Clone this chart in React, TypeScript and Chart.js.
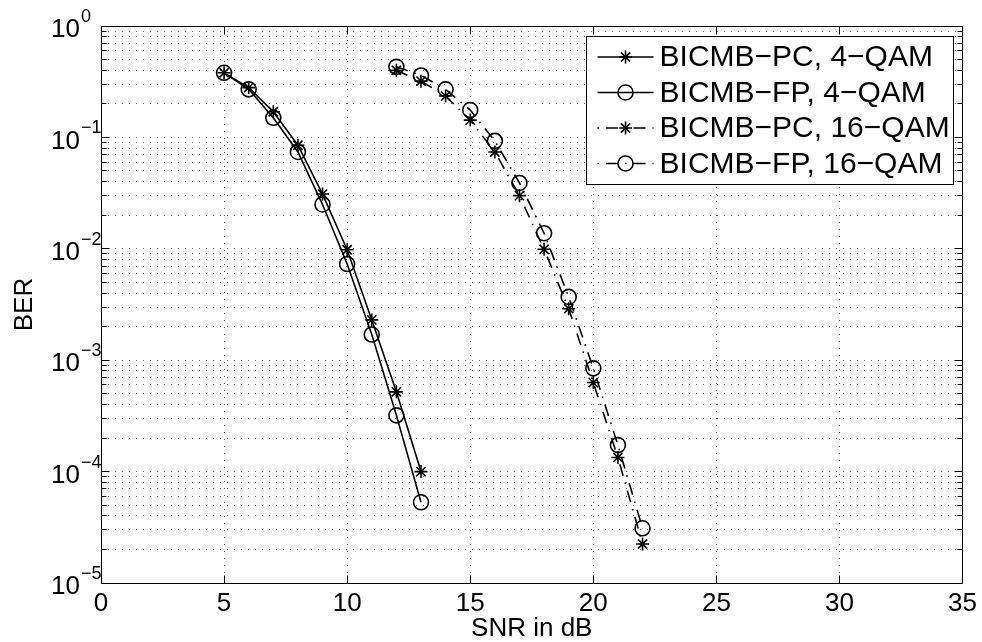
import React, { useEffect, useRef } from 'react';
import { Chart, registerables } from 'chart.js';

Chart.register(...registerables);

const W = 982;
const H = 642;
const FONT = '"Liberation Sans", Arial, Helvetica, sans-serif';

// ---- data ----
const snr4QAM = [5, 6, 7, 8, 9, 10, 11, 12, 13];
const berPC4QAM = [0.38, 0.28, 0.17, 0.085, 0.031, 0.0098, 0.0023, 0.00052, 0.0001];
const berFP4QAM = [0.38, 0.27, 0.15, 0.074, 0.025, 0.0073, 0.0017, 0.00032, 0.000053];
const snr16QAM = [12, 13, 14, 15, 16, 17, 18, 19, 20, 21, 22];
const berPC16QAM = [0.4, 0.32, 0.235, 0.143, 0.074, 0.03, 0.0099, 0.0029, 0.00063, 0.000134, 0.0000224];
const berFP16QAM = [0.43, 0.36, 0.27, 0.176, 0.093, 0.039, 0.0138, 0.0037, 0.000845, 0.000173, 0.000031];
const seriesLabels = ['BICMB\u2212PC, 4\u2212QAM', 'BICMB\u2212FP, 4\u2212QAM', 'BICMB\u2212PC, 16\u2212QAM', 'BICMB\u2212FP, 16\u2212QAM'];
const xTickValues = [0, 5, 10, 15, 20, 25, 30, 35];
const yDecadeExponents = [0, -1, -2, -3, -4, -5];
const yMinorMultipliers = [2, 3, 4, 5, 6, 7, 8, 9];
const xTitle = 'SNR in dB';
const yTitle = 'BER';

const DASH_DOT = [12, 7, 1.5, 7];
const LINE_W = 1.6;
const GRID_COLOR = 'rgba(0,0,0,0.6)';

const toPoints = (xs: number[], ys: number[]) => xs.map((x, i) => ({ x, y: ys[i] }));

const yGridValues: number[] = [];
yDecadeExponents.forEach((e) => {
  yGridValues.push(Math.pow(10, e));
  if (e > -5) {
    yMinorMultipliers.forEach((m) => yGridValues.push(m * Math.pow(10, e - 1)));
  }
});
yGridValues.sort((a, b) => a - b);

const align = (p: number) => Math.round(p - 0.5) + 0.5;

function drawMarker(ctx: CanvasRenderingContext2D, style: string, x: number, y: number, r: number) {
  ctx.beginPath();
  if (style === 'circle') {
    ctx.arc(x, y, r, 0, Math.PI * 2);
  } else {
    for (let k = 0; k < 4; k++) {
      const a = (k * Math.PI) / 4;
      ctx.moveTo(x - Math.cos(a) * r, y - Math.sin(a) * r);
      ctx.lineTo(x + Math.cos(a) * r, y + Math.sin(a) * r);
    }
  }
  ctx.stroke();
}

const matlabPlugin = {
  id: 'matlabFrame',
  afterDatasetsDraw(chart: any) {
    const { ctx, chartArea: a, scales } = chart;
    const xs = scales.x;
    const ys = scales.y;
    const L = align(a.left);
    const R = align(a.right);
    const T = align(a.top);
    const B = align(a.bottom);
    ctx.save();
    ctx.strokeStyle = '#000';
    ctx.fillStyle = '#000';
    ctx.lineWidth = 1;
    ctx.setLineDash([]);
    // frame
    ctx.strokeRect(L, T, R - L, B - T);
    // ticks
    ctx.beginPath();
    xTickValues.forEach((v) => {
      const px = align(xs.getPixelForValue(v));
      ctx.moveTo(px, B);
      ctx.lineTo(px, B - 8);
      ctx.moveTo(px, T);
      ctx.lineTo(px, T + 8);
    });
    yGridValues.forEach((v) => {
      const py = align(ys.getPixelForValue(v));
      const major = Math.abs(Math.log10(v) - Math.round(Math.log10(v))) < 1e-9;
      const len = major ? 8 : 5;
      ctx.moveTo(L, py);
      ctx.lineTo(L + len, py);
      ctx.moveTo(R, py);
      ctx.lineTo(R - len, py);
    });
    ctx.stroke();

    // y tick labels with superscripts
    yDecadeExponents.forEach((e) => {
      const py = ys.getPixelForValue(Math.pow(10, e));
      ctx.font = `26px ${FONT}`;
      ctx.textAlign = 'right';
      ctx.textBaseline = 'middle';
      ctx.fillText('10', 80, py + 4);
      ctx.font = `18px ${FONT}`;
      ctx.textAlign = 'left';
      ctx.fillText(e === 0 ? '0' : '\u2212' + Math.abs(e), 81, py - 9);
    });

    // legend box
    const boxR = a.right - 9;
    const boxT = a.top + 10;
    const boxW = 367;
    const boxH = 148;
    const boxL = boxR - boxW;
    ctx.fillStyle = '#fff';
    ctx.fillRect(align(boxL), align(boxT), boxW, boxH);
    ctx.strokeRect(align(boxL), align(boxT), boxW, boxH);
    chart.data.datasets.forEach((ds: any, i: number) => {
      const ry = boxT + 21 + i * 35.5;
      const x0 = boxL + 11;
      const x1 = boxL + 67;
      ctx.lineWidth = LINE_W;
      ctx.strokeStyle = '#000';
      ctx.setLineDash(ds.borderDash && ds.borderDash.length ? [1.5, 7, 12, 7] : []);
      ctx.beginPath();
      ctx.moveTo(x0, ry);
      ctx.lineTo(x1, ry);
      ctx.stroke();
      ctx.setLineDash([]);
      drawMarker(ctx, ds.pointStyle, (x0 + x1) / 2, ry, ds.pointRadius);
      ctx.fillStyle = '#000';
      ctx.font = `30px ${FONT}`;
      ctx.textAlign = 'left';
      ctx.textBaseline = 'middle';
      ctx.fillText(ds.label, boxL + 73, ry + 1);
    });
    ctx.restore();
  },
};

export default function App() {
  const ref = useRef<HTMLCanvasElement>(null);
  useEffect(() => {
    document.body.style.margin = '0';
    const base = {
      borderColor: '#000',
      borderWidth: LINE_W,
      pointBorderColor: '#000',
      pointBackgroundColor: 'rgba(0,0,0,0)',
      pointBorderWidth: LINE_W,
      fill: false,
      tension: 0,
    };
    const chart = new Chart(ref.current as HTMLCanvasElement, {
      type: 'line',
      data: {
        datasets: [
          { ...base, label: seriesLabels[0], data: toPoints(snr4QAM, berPC4QAM), pointStyle: 'star', pointRadius: 6.5 },
          { ...base, label: seriesLabels[1], data: toPoints(snr4QAM, berFP4QAM), pointStyle: 'circle', pointRadius: 7.5 },
          { ...base, label: seriesLabels[2], data: toPoints(snr16QAM, berPC16QAM), pointStyle: 'star', pointRadius: 6.5, borderDash: DASH_DOT },
          { ...base, label: seriesLabels[3], data: toPoints(snr16QAM, berFP16QAM), pointStyle: 'circle', pointRadius: 7.5, borderDash: DASH_DOT },
        ] as any,
      },
      options: {
        animation: false,
        responsive: false,
        devicePixelRatio: 1,
        layout: { padding: { top: 26, right: 18, left: 0, bottom: 0 } },
        plugins: { legend: { display: false }, tooltip: { enabled: false } },
        scales: {
          x: {
            type: 'linear',
            min: 0,
            max: 35,
            afterBuildTicks: (s: any) => {
              s.ticks = xTickValues.map((v) => ({ value: v }));
            },
            afterFit: (s: any) => {
              s.height = 59;
            },
            ticks: {
              font: { size: 26, family: FONT },
              color: '#000',
              padding: 5,
              maxRotation: 0,
              autoSkip: false,
            },
            grid: { color: GRID_COLOR, lineWidth: 1, drawTicks: false },
            border: { display: false, dash: [1, 6] },
            title: {
              display: true,
              text: xTitle,
              color: '#000',
              font: { size: 26, family: FONT, lineHeight: 1.0 },
              padding: 0,
            },
          },
          y: {
            type: 'logarithmic',
            min: 1e-5,
            max: 1,
            afterBuildTicks: (s: any) => {
              s.ticks = yGridValues.map((v) => ({ value: v }));
            },
            afterFit: (s: any) => {
              s.width = 101;
            },
            ticks: { display: false, autoSkip: false },
            grid: { color: GRID_COLOR, lineWidth: 1, drawTicks: false },
            border: { display: false, dash: [1, 6] },
            title: {
              display: true,
              text: yTitle,
              color: '#000',
              font: { size: 26, family: FONT, lineHeight: 1.0 },
              padding: { top: 12, bottom: 0 },
            },
          },
        },
      } as any,
      plugins: [matlabPlugin],
    });
    return () => chart.destroy();
  }, []);
  return (
    <div style={{ width: W, height: H, background: '#fff', overflow: 'hidden' }}>
      <canvas ref={ref} width={W} height={H} style={{ display: 'block', width: W, height: H }} />
    </div>
  );
}
